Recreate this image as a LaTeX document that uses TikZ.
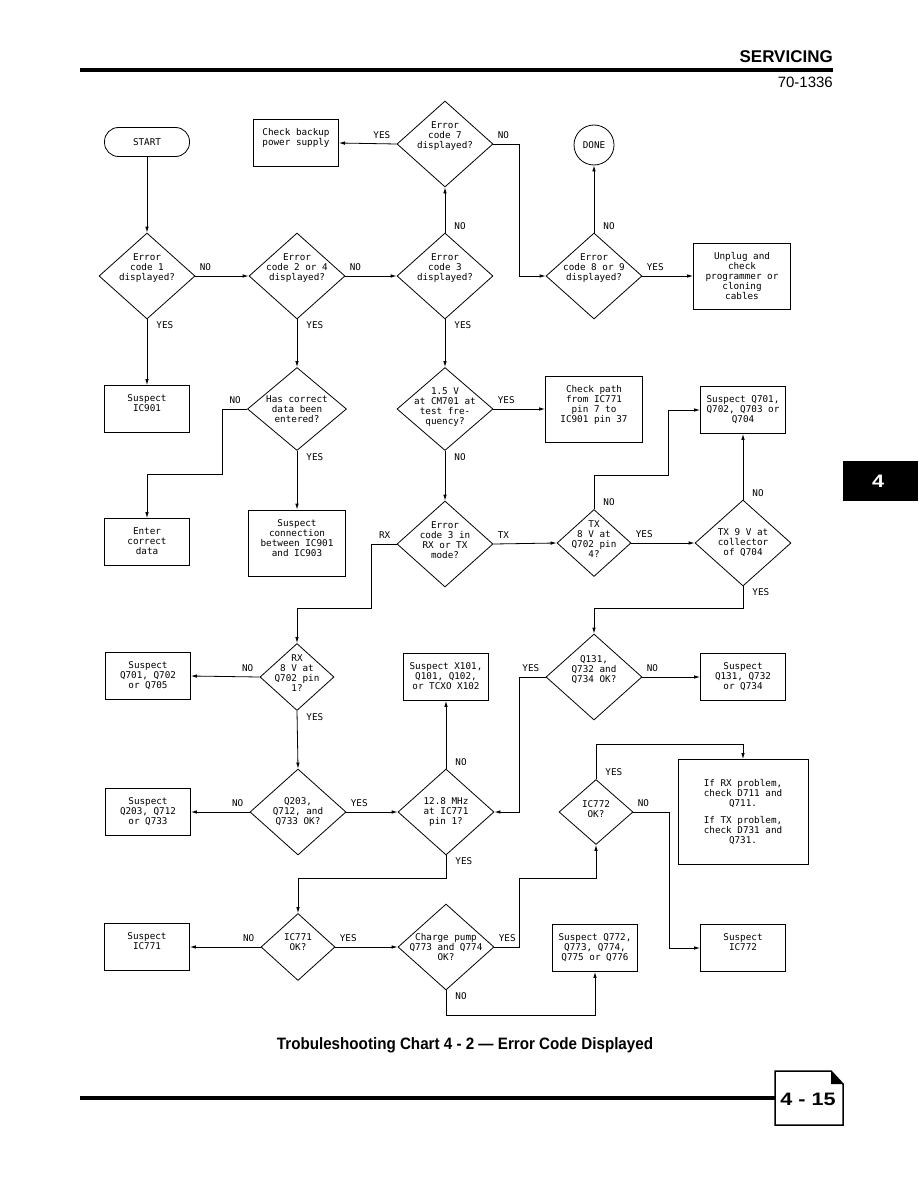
\documentclass[tikz,border=0pt]{standalone}
\usepackage{fontspec}
\usetikzlibrary{shapes.geometric,arrows.meta,positioning,calc}
\newfontfamily\plotfont{DejaVu Sans Mono}
\newfontfamily\headfont{Liberation Sans}
\newfontfamily\narrowfont[FakeStretch=0.92]{Liberation Sans}
\newfontfamily\widefont[FakeStretch=1.2]{Liberation Sans}

\tikzset{
  chart/.style={font=\plotfont\fontsize{9.3}{10}\selectfont},
  txt/.style={chart, align=center, inner sep=0pt},
  stepbox/.style={draw, line width=0.8pt, minimum width=85pt, minimum height=47pt, inner sep=0pt,
    label={[txt, anchor=north, yshift=-9.5pt]north:#1}},
  bigbox/.style={stepbox={#1}, minimum width=97pt, minimum height=66pt},
  dec/.style={draw, diamond, line width=0.8pt, inner sep=0pt, minimum width=96pt, minimum height=86pt},
  smalldec/.style={dec, minimum width=74pt, minimum height=67pt},
  ask/.style 2 args={label={[txt, yshift=#1]center:#2}},
  line/.style={draw, line width=0.8pt, -{Latex[length=6pt,width=3.5pt]}},
  yn/.style={chart, inner sep=0pt, pos=0},
  lblr/.style={yn, anchor=south west, xshift=4pt, yshift=5pt},
  lbll/.style={yn, anchor=south east, xshift=-6pt, yshift=5pt},
  lbld/.style={yn, anchor=north west, xshift=9pt, yshift=-2pt},
  lblu/.style={yn, anchor=south west, xshift=9pt, yshift=3pt},
}

\begin{document}
\begin{tikzpicture}[x=1pt,y=-1pt]
\useasboundingbox (0,0) rectangle (918,1188);

% page frame
\draw[line width=4pt] (80,70) -- (833,70);
\node[anchor=south east, inner sep=0pt, font=\headfont\bfseries\fontsize{17}{17}\selectfont] (section) at (833,63) {SERVICING};
\node[anchor=north east, inner sep=0pt, font=\headfont\fontsize{15}{15}\selectfont] (docno) at (833,77) {70-1336};
\fill (843,461) rectangle (918,501);
\node[white, inner sep=0pt, font=\widefont\bfseries\fontsize{18}{18}\selectfont] (tab) at (878,481) {4};

\node[chart, draw, rounded corners=14pt, line width=0.8pt, minimum width=85pt, minimum height=29pt] (start) at (147,142) {START};
\node[dec, ask={8pt}{Error\\code 7\\displayed?}] (c7) at (445,144) {};
\node[stepbox={Check backup\\power supply}] (backup) at (296,143) {};
\node[chart, draw, circle, line width=0.8pt, minimum size=40pt, inner sep=0pt] (done) at (594,145) {DONE};

\node[dec, ask={8pt}{Error\\code 1\\displayed?}] (c1) at (147,276) {};
\node[dec, ask={8pt}{Error\\code 2 or 4\\displayed?}] (c24) at (297,276) {};
\node[dec, ask={8pt}{Error\\code 3\\displayed?}] (c3) at (445,276) {};
\node[dec, ask={8pt}{Error\\code 8 or 9\\displayed?}] (c89) at (594,276) {};
\node[bigbox={Unplug and\\check\\programmer or\\cloning\\cables}] (unplug) at (742,276) {};

\node[stepbox={Suspect\\IC901}] (ic901) at (147,409) {};
\node[dec, minimum width=99pt, minimum height=83pt, ask={0pt}{Has correct\\data been\\entered?}] (data) at (297,409) {};
\node[dec, minimum height=83pt, ask={2pt}{1.5 V\\at CM701 at\\test fre-\\quency?}] (c15) at (445,409) {};
\node[bigbox={Check path\\from IC771\\pin 7 to\\IC901 pin 37}] (path) at (594,409) {};
\node[stepbox={Suspect Q701,\\Q702, Q703 or\\Q704}] (q701) at (743,410) {};

\node[stepbox={Enter\\correct\\data}] (enter) at (147,542) {};
\node[bigbox={Suspect\\connection\\between IC901\\and IC903}] (conn) at (297,543) {};
\node[dec, ask={4pt}{Error\\code 3 in\\RX or TX\\mode?}] (mode) at (445,544) {};
\node[smalldec, ask={4pt}{TX\\8 V at\\Q702 pin\\4?}] (tx8) at (594,543) {};
\node[dec, ask={0pt}{TX 9 V at\\collector\\of Q704}] (tx9) at (743,543) {};

\node[stepbox={Suspect\\Q701, Q702\\or Q705}] (q705) at (148,676) {};
\node[smalldec, ask={4pt}{RX\\8 V at\\Q702 pin\\1?}] (rx8) at (297,677) {};
\node[stepbox={Suspect X101,\\Q101, Q102,\\or TCXO X102}] (x101) at (446,677) {};
\node[dec, ask={7pt}{Q131,\\Q732 and\\Q734 OK?}] (q131) at (594,677) {};
\node[stepbox={Suspect\\Q131, Q732\\or Q734}] (sq131) at (743,677) {};

\node[stepbox={Suspect\\Q203, Q712\\or Q733}] (sq203) at (148,812) {};
\node[dec, ask={0pt}{Q203,\\Q712, and\\Q733 OK?}] (q203) at (298,812) {};
\node[dec, ask={0pt}{12.8 MHz\\at IC771\\pin 1?}] (mhz) at (446,812) {};
\node[smalldec, minimum height=65pt, ask={3pt}{IC772\\OK?}] (ic772) at (596,812) {};
\node[draw, line width=0.8pt, minimum width=130pt, minimum height=105pt, label={[txt]center:If RX problem,\\check D711 and\\Q711.\\[7pt]If TX problem,\\check D731 and\\Q731.}] (hint) at (743,812) {};

\node[stepbox={Suspect\\IC771}] (sic771) at (147,947) {};
\node[smalldec, ask={5pt}{IC771\\OK?}] (ic771) at (298,947) {};
\node[dec, ask={0pt}{Charge pump\\Q773 and Q774\\OK?}] (pump) at (446,947) {};
\node[stepbox={Suspect Q772,\\Q773, Q774,\\Q775 or Q776}] (sq772) at (595,948) {};
\node[stepbox={Suspect\\IC772}] (sic772) at (743,948) {};

\draw[line] (start.south) -- (c1.north);
\draw[line] (c1.east) -- node[lblr]{NO} (c24.west);
\draw[line] (c24.east) -- node[lblr]{NO} (c3.west);
\draw[line] (c3.north) -- node[lblu]{NO} (c7.south);
\draw[line] (c7.west) -- node[lbll]{YES} (backup.east);
\draw[line] (c7.east) -- node[lblr]{NO} ++(26,0) |- (c89.west);
\draw[line] (c89.north) -- node[lblu]{NO} (done.south);
\draw[line] (c89.east) -- node[lblr]{YES} (unplug.west);
\draw[line] (c1.south) -- node[lbld]{YES} (ic901.north);
\draw[line] (c24.south) -- node[lbld]{YES} (data.north);
\draw[line] (c3.south) -- node[lbld]{YES} (c15.north);
\draw[line] (data.west) -- node[lbll]{NO} ++(-25,0) |- ($(enter.north)+(0,-44)$) -- (enter.north);
\draw[line] (data.south) -- node[lbld]{YES} (conn.north);
\draw[line] (c15.east) -- node[lblr]{YES} (path.west);
\draw[line] (c15.south) -- node[lbld]{NO} (mode.north);
\draw[line] (mode.west) -- node[lbll]{RX} ++(-25,0) |- ($(rx8.north)+(0,-35)$) -- (rx8.north);
\draw[line] (mode.east) -- node[lblr]{TX} (tx8.west);
\draw[line] (tx8.north) -- node[lblu]{NO} ++(0,-34) -| ($(q701.west)+(-32,0)$) -- (q701.west);
\draw[line] (tx8.east) -- node[lblr]{YES} (tx9.west);
\draw[line] (tx9.north) -- node[lblu]{NO} (q701.south);
\draw[line] (tx9.south) -- node[lbld]{YES} ++(0,22) -| (q131.north);
\draw[line] (rx8.west) -- node[lbll]{NO} (q705.east);
\draw[line] (rx8.south) -- node[lbld]{YES} (q203.north);
\draw[line] (q131.west) -- node[lbll]{YES} ++(-26,0) |- (mhz.east);
\draw[line] (q131.east) -- node[lblr]{NO} (sq131.west);
\draw[line] (mhz.north) -- node[lblu]{NO} (x101.south);
\draw[line] (q203.west) -- node[lbll]{NO} (sq203.east);
\draw[line] (q203.east) -- node[lblr]{YES} (mhz.west);
\draw[line] (mhz.south) -- node[lbld]{YES} ++(0,23) -| (ic771.north);
\draw[line] (ic772.north) -- node[lblu]{YES} ++(0,-35) -| (hint.north);
\draw[line] (ic772.east) -- node[lblr]{NO} ++(36,0) |- (sic772.west);
\draw[line] (ic771.west) -- node[lbll]{NO} (sic771.east);
\draw[line] (ic771.east) -- node[lblr]{YES} (pump.west);
\draw[line] (pump.east) -- node[lblr]{YES} ++(25,0) |- ($(ic772.south)+(0,33)$) -- (ic772.south);
\draw[line] (pump.south) -- node[lbld]{NO} ++(0,25) -| (sq772.south);

\node[inner sep=0pt, font=\narrowfont\bfseries\fontsize{16.5}{16.5}\selectfont] (caption) at (465,1045) {Trobuleshooting Chart 4 - 2 — Error Code Displayed};
\draw[line width=4pt] (80,1098) -- (775,1098);
\draw[line width=1.5pt] (775,1071) -- (831,1071) -- (843,1084) -- (843,1125) -- (775,1125) -- cycle;
\fill (831,1071) -- (843,1084) -- (831,1084) -- cycle;
\node[inner sep=0pt, font=\widefont\bfseries\fontsize{18}{18}\selectfont] (pageno) at (808,1099) {4 - 15};
\end{tikzpicture}
\end{document}
